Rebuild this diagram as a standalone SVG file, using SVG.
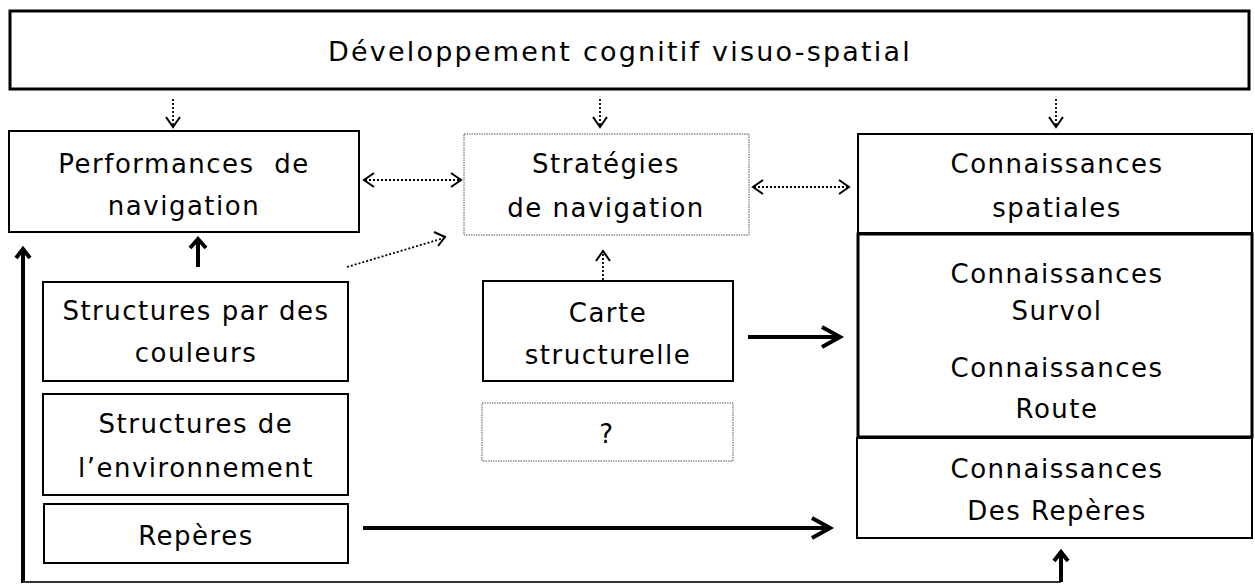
<svg xmlns="http://www.w3.org/2000/svg" width="1255" height="584" viewBox="0 0 1255 584">
<style>
text{font-family:"DejaVu Sans","Open Sans","Liberation Sans",sans-serif;font-size:26px;letter-spacing:1.5px;fill:#000;text-anchor:middle}
.title{font-size:27px;letter-spacing:2.2px}
.box{fill:#fff;stroke:#000;stroke-width:2}
.thick{fill:#fff;stroke:#000;stroke-width:3}
.dotbox{fill:#fff;stroke:#555;stroke-width:1;stroke-dasharray:1.5 1}
.dl{fill:none;stroke:#000;stroke-width:1.8;stroke-dasharray:2 2}
.dh{fill:none;stroke:#000;stroke-width:2}
.sl{fill:none;stroke:#000;stroke-width:4}
.sh{fill:none;stroke:#000;stroke-width:4;stroke-linejoin:miter}
</style>
<rect width="1255" height="584" fill="#fff"/>
<g id="dev"><rect class="thick" x="10" y="11" width="1239" height="78" stroke-width="3.5"/><text class="title" x="620" y="61">Développement cognitif visuo-spatial</text></g>
<g id="perf"><rect class="box" x="9" y="131" width="350" height="101"/><text x="184" y="173" xml:space="preserve">Performances  de</text><text x="184" y="215">navigation</text></g>
<g id="strat"><rect class="dotbox" x="464" y="134" width="285" height="101"/><text x="606" y="173">Stratégies</text><text x="606" y="217">de navigation</text></g>
<g id="conn"><rect class="box" x="858" y="134" width="394" height="99"/><text x="1057" y="173">Connaissances</text><text x="1057" y="217">spatiales</text></g>
<g id="survol"><rect class="thick" x="858" y="234" width="394" height="203"/><text x="1057" y="283">Connaissances</text><text x="1057" y="320">Survol</text><text x="1057" y="377">Connaissances</text><text x="1057" y="418">Route</text></g>
<g id="reperesC"><rect class="box" x="857" y="438" width="395" height="100"/><text x="1057" y="478">Connaissances</text><text x="1057" y="520">Des Repères</text></g>
<g id="couleurs"><rect class="box" x="43" y="282" width="305" height="99"/><text x="196" y="320">Structures par des</text><text x="196" y="362">couleurs</text></g>
<g id="env"><rect class="box" x="43" y="394" width="305" height="101"/><text x="196" y="433">Structures de</text><text x="196" y="477">l’environnement</text></g>
<g id="reperes"><rect class="box" x="44" y="504" width="304" height="59"/><text x="196" y="545">Repères</text></g>
<g id="carte"><rect class="box" x="483" y="281" width="250" height="100"/><text x="608" y="322">Carte</text><text x="608" y="364">structurelle</text></g>
<g id="q"><rect class="dotbox" x="482" y="403" width="251" height="58"/><text x="607" y="443">?</text></g>
<g id="connectors">
<path class="dl" d="M173 99V126"/><path class="dh" d="M166 117L173 127L180 117"/>
<path class="dl" d="M600 99V126"/><path class="dh" d="M593 117L600 127L607 117"/>
<path class="dl" d="M1056 99V126"/><path class="dh" d="M1049 117L1056 127L1063 117"/>
<path class="dl" d="M365 180H460"/><path class="dh" d="M374 173L364 180L374 187M451 173L461 180L451 187"/>
<path class="dl" d="M754 187H848"/><path class="dh" d="M763 180L753 187L763 194M839 180L849 187L839 194"/>
<path class="dl" d="M347 267L444 238"/><path class="dh" d="M434 232L445 237L438 246"/>
<path class="dl" d="M603 280V252"/><path class="dh" d="M596 261L603 251L610 261"/>
<path class="sl" d="M198 267V242"/><path class="sh" d="M190 248L198 239L206 248"/>
<path class="sl" d="M748 337H838"/><path class="sh" d="M822 327L840 337L822 347"/>
<path class="sl" d="M363 528H830"/><path class="sh" d="M812 518L830 528L812 538"/>
<path class="sl" d="M23 583V252"/><path class="sh" d="M16 258L23 249L30 258"/>
<path fill="none" stroke="#333" stroke-width="2" d="M23 582H1061"/>
<path class="sl" d="M1061 582V554"/><path class="sh" d="M1054 561L1061 552L1068 561"/>
</g>
</svg>
